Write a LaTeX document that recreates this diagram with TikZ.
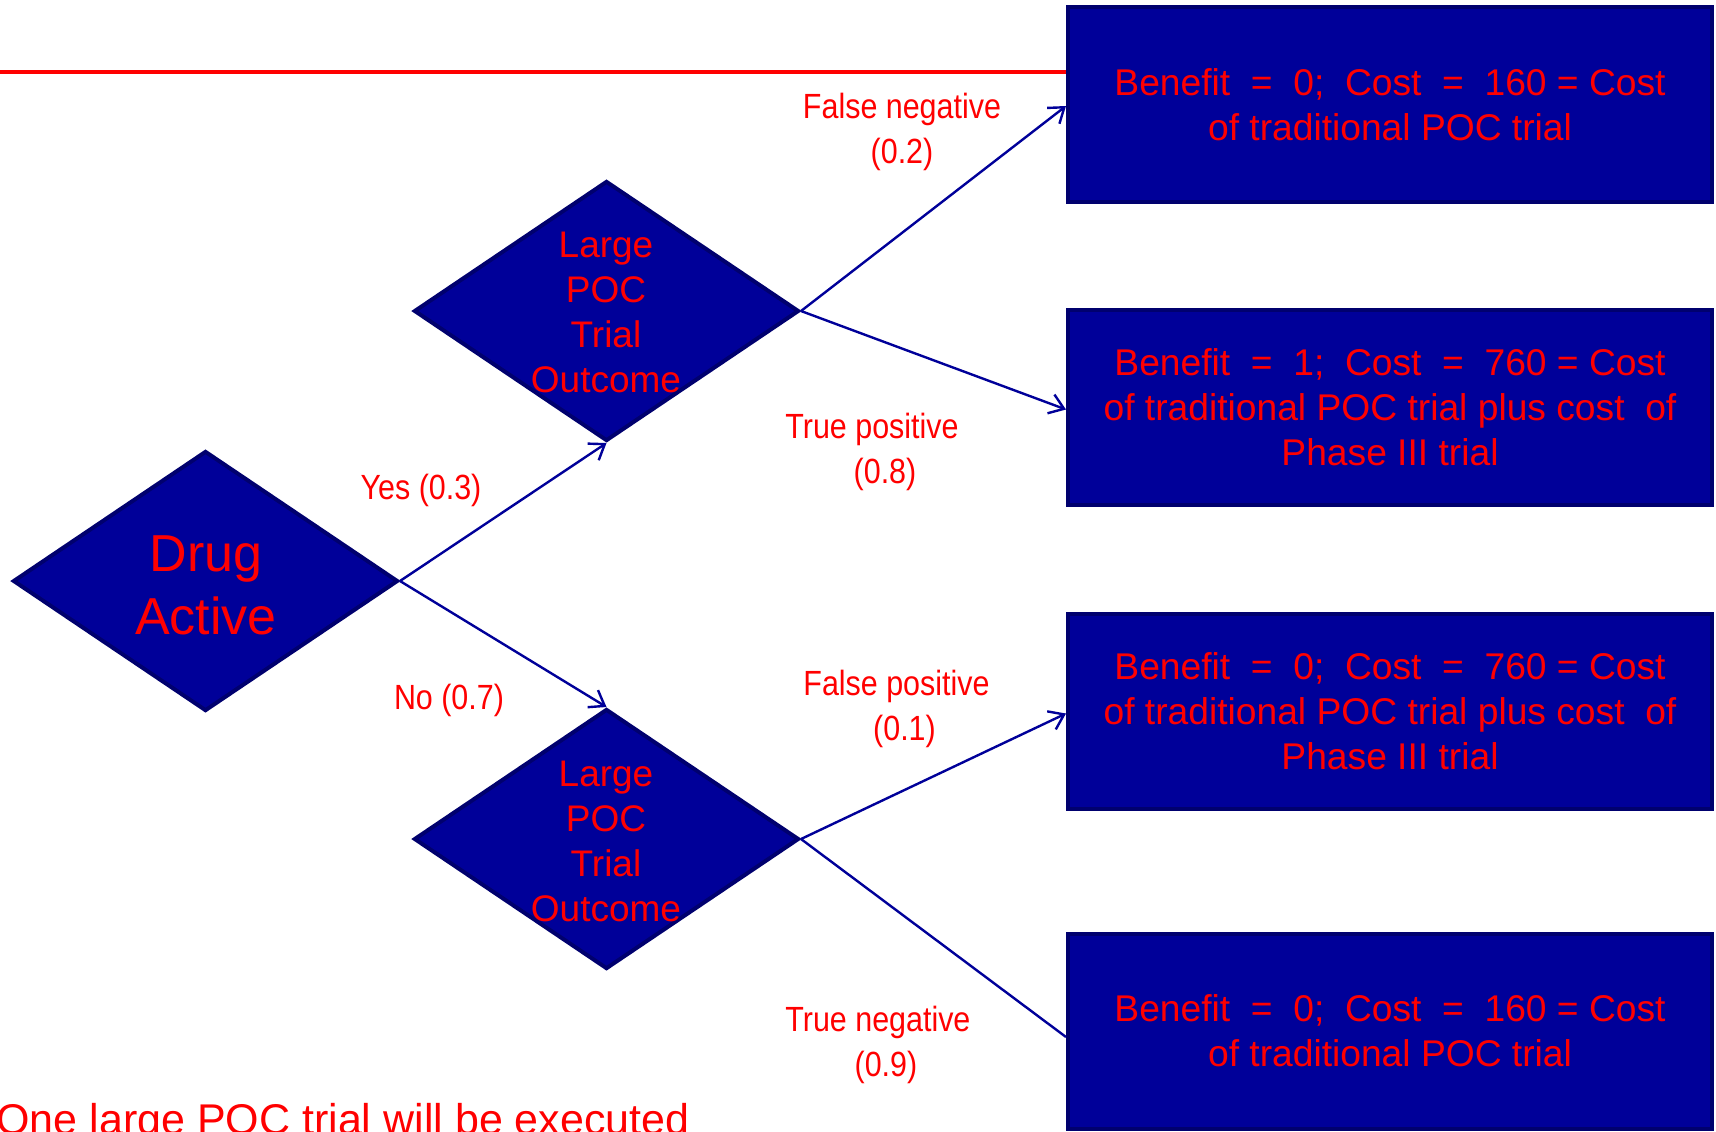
\documentclass[tikz,border=0pt]{standalone}
\usepackage{fontspec}
\setmainfont{Liberation Sans}
\newfontfamily\narrowfont{Liberation Sans}[FakeStretch=0.87]
\usetikzlibrary{shapes.geometric,arrows.meta}
\definecolor{navyfill}{HTML}{000099}
\definecolor{navyedge}{HTML}{00006E}
\definecolor{linkblue}{HTML}{000099}
\definecolor{txtred}{HTML}{FF0000}
\tikzset{
  decision/.style={diamond, draw=navyedge, fill=navyfill, line width=2pt,
    minimum width=385*0.5pt, minimum height=260*0.5pt, inner sep=0pt},
  outcome/.style={rectangle, draw=navyedge, fill=navyfill, line width=2pt,
    minimum width=644*0.5pt, minimum height=195*0.5pt, inner sep=0pt},
  boxtext/.style={text=txtred, align=center, font=\fontsize{18.6}{22.5}\selectfont},
  dtext/.style={text=txtred, align=center, font=\fontsize{18.5}{22.5}\selectfont, inner sep=0pt},
  bigtext/.style={text=txtred, align=center, font=\fontsize{26}{31.5}\selectfont, inner sep=0pt},
  edgelabel/.style={text=txtred, align=center, font=\narrowfont\fontsize{17.5}{22.5}\selectfont, inner sep=0pt},
  conn/.style={draw=linkblue, line width=1.2pt},
  arr/.style={conn, -{Straight Barb[length=7pt,width=10pt,line width=1.2pt]}},
  redrule/.style={draw=txtred, line width=2.2pt}
}
\begin{document}
\begin{tikzpicture}[x=0.5pt,y=-0.5pt]
\useasboundingbox (0,0) rectangle (1716,1131);

% decision diamonds
\node[decision] (act) at (205.5,581) {};
\node[bigtext] (actlbl) at (206,585) {Drug\\Active};
\node[decision] (up) at (606.5,311) {};
\node[dtext] (uplbl) at (606,312) {Large\\POC\\Trial\\Outcome};
\node[decision] (lo) at (606.5,839) {};
\node[dtext] (lolbl) at (606,841) {Large\\POC\\Trial\\Outcome};

% outcome boxes
\node[outcome] (b1) at (1390,104) {};
\node[boxtext] (b1t) at ([yshift=-0.5pt]b1) {Benefit\ \ =\ \ 0;\ \ Cost\ \ =\ \ 160 = Cost\\of traditional POC trial};
\node[outcome] (b2) at (1390,407.5) {};
\node[boxtext] (b2t) at (b2) {Benefit\ \ =\ \ 1;\ \ Cost\ \ =\ \ 760 = Cost\\of traditional POC trial plus cost\ \ of\\Phase III trial};
\node[outcome] (b3) at (1390,711.5) {};
\node[boxtext] (b3t) at (b3) {Benefit\ \ =\ \ 0;\ \ Cost\ \ =\ \ 760 = Cost\\of traditional POC trial plus cost\ \ of\\Phase III trial};
\node[outcome] (b4) at (1390,1031) {};
\node[boxtext] (b4t) at (b4) {Benefit\ \ =\ \ 0;\ \ Cost\ \ =\ \ 160 = Cost\\of traditional POC trial};

% red rule along the top
\coordinate (rulestart) at (0,72);
\draw[redrule] (rulestart) -- (rulestart -| b1.west);

% branches
\draw[arr] (act.east) -- (up.south);
\draw[arr] (act.east) -- (lo.north);
\draw[arr] (up.east) -- ([yshift=-1pt]b1.west);
\draw[arr] (up.east) -- ([yshift=-1pt]b2.west);
\draw[arr] (lo.east) -- ([yshift=-1pt]b3.west);
\draw[conn] (lo.east) -- ([yshift=-3pt]b4.west);

% branch labels
\node[edgelabel] (lyes) at (421,490.5) {Yes (0.3)};
\node[edgelabel] (lno) at (449,700.5) {No (0.7)};
\node[edgelabel] (lfn) at (902,132) {False negative\\(0.2)};
\node[edgelabel, anchor=north west] (ltp) at (785,413) {True positive\\\hspace*{13pt}(0.8)};
\node[edgelabel, anchor=north west] (lfp) at (803,670) {False positive\\\hspace*{8pt}(0.1)};
\node[edgelabel, anchor=north west] (ltn) at (785,1006) {True negative\\\hspace*{8pt}(0.9)};

% note at the foot
\node[text=txtred, anchor=base west, inner sep=0pt, font=\fontsize{21.5}{26}\selectfont] (note) at (-4,1134) {One large POC trial will be executed};
\end{tikzpicture}
\end{document}
